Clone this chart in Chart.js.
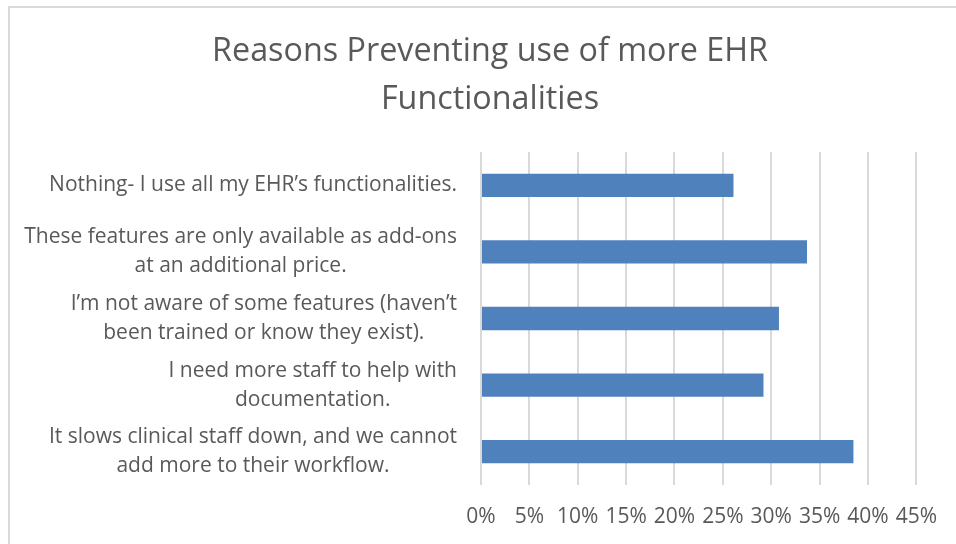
<!DOCTYPE html>
<html><head><meta charset="utf-8">
<script src="https://cdn.jsdelivr.net/npm/chart.js@4/dist/chart.umd.min.js"></script>
<style>html,body{margin:0;padding:0;background:#fff}#wrap{position:relative;width:956px;height:544px}</style>
</head><body><div id="wrap"><canvas id="c" width="956" height="544"></canvas></div>
<script>
const titleLines = ['Reasons Preventing use of more EHR', 'Functionalities'];
const categories = [
  ['Nothing- I use all my EHR’s functionalities.'],
  ['These features are only available as add-ons', 'at an additional price.'],
  ['I’m not aware of some features (haven’t', 'been trained or know they exist).'],
  ['I need more staff to help with', 'documentation.'],
  ['It slows clinical staff down, and we cannot', 'add more to their workflow.']
];
const values = [26.1, 33.7, 30.8, 29.2, 38.5];
const axisMin = 0, axisMax = 45, axisStep = 5;

const TEXT = '#595959';
const FONT = '"Open Sans"';

const framePlugin = {
  id: 'frame',
  beforeDraw(chart) {
    const ctx = chart.ctx;
    ctx.save();
    ctx.fillStyle = '#fff';
    ctx.fillRect(0, 0, chart.width, chart.height);
    ctx.strokeStyle = '#d9d9d9';
    ctx.lineWidth = 2;
    ctx.beginPath();
    ctx.moveTo(9, chart.height);
    ctx.lineTo(9, 7);
    ctx.lineTo(chart.width, 7);
    ctx.stroke();
    ctx.restore();
  }
};

const labelPlugin = {
  id: 'catLabels',
  afterDraw(chart) {
    const ctx = chart.ctx;
    const ys = chart.scales.y;
    const right = chart.chartArea.left - 24;
    ctx.save();
    ctx.font = '21px ' + FONT;
    ctx.fillStyle = TEXT;
    ctx.textAlign = 'center';
    ctx.textBaseline = 'middle';
    const lh = 29;
    categories.forEach((lines, i) => {
      const yc = ys.getPixelForTick(i);
      const w = Math.max(...lines.map(l => ctx.measureText(l).width));
      const cx = right - w / 2;
      const y0 = yc - (lines.length - 1) * lh / 2;
      lines.forEach((l, j) => ctx.fillText(l, cx, y0 + j * lh));
    });
    ctx.restore();
  }
};

new Chart(document.getElementById('c'), {
  type: 'bar',
  data: {
    labels: categories,
    datasets: [{
      data: values,
      backgroundColor: '#4f81bd',
      borderWidth: 0,
      barPercentage: 0.35,
      categoryPercentage: 1.0
    }]
  },
  options: {
    indexAxis: 'y',
    responsive: false,
    animation: false,
    devicePixelRatio: 1,
    layout: { padding: { left: 60, right: 36, top: 10, bottom: 0 } },
    plugins: {
      legend: { display: false },
      tooltip: { enabled: false },
      title: {
        display: true,
        text: titleLines,
        color: TEXT,
        font: { family: FONT, size: 32.3, weight: 'normal', lineHeight: 48 / 32.3 },
        padding: { top: 18, bottom: 28 }
      }
    },
    scales: {
      x: {
        min: axisMin, max: axisMax,
        afterFit(s) { s.height = 59; },
        ticks: {
          stepSize: axisStep,
          color: TEXT,
          font: { family: FONT, size: 21 },
          padding: 19,
          callback: v => v + '%'
        },
        grid: { color: '#d9d9d9', lineWidth: 2, drawTicks: false },
        border: { display: false }
      },
      y: {
        afterFit(s) { s.width = 421; },
        ticks: { display: false },
        grid: { display: false, drawTicks: false },
        border: { display: false }
      }
    }
  },
  plugins: [framePlugin, labelPlugin]
});
</script></body></html>
